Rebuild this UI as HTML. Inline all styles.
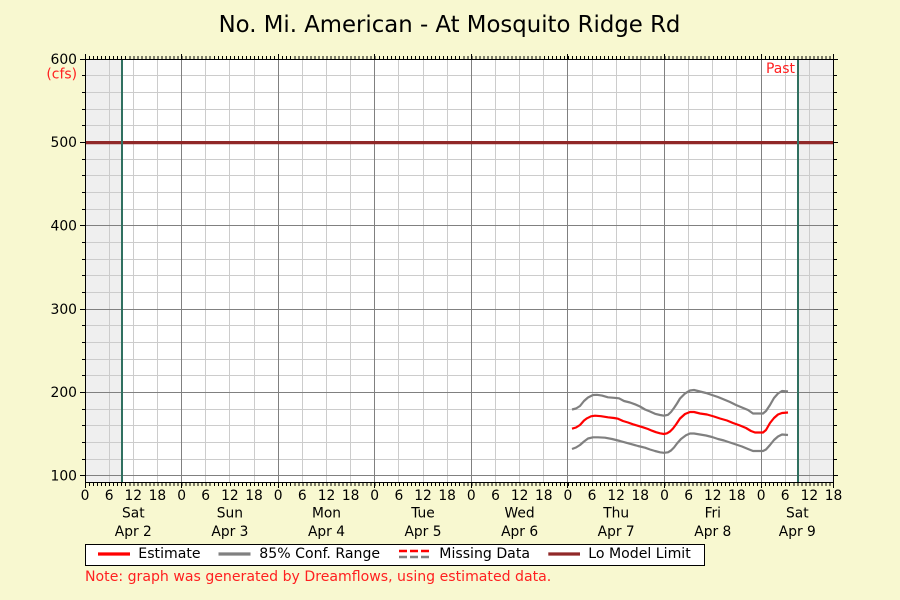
<!DOCTYPE html>
<html>
<head>
<meta charset="utf-8">
<style>
html,body{margin:0;padding:0;background:#f8f8d0;}
svg{display:block;}
text{font-family:"DejaVu Sans","Liberation Sans",sans-serif;}
</style>
</head>
<body>
<svg width="900" height="600" viewBox="0 0 900 600" xmlns="http://www.w3.org/2000/svg">
<rect x="0" y="0" width="900" height="600" fill="#f8f8d0"/>
<text x="449.5" y="32" font-size="22.8" text-anchor="middle" fill="#000">No. Mi. American - At Mosquito Ridge Rd</text>

<!-- plot background -->
<rect x="85" y="59" width="749" height="424" fill="#ffffff"/>
<rect x="85" y="59" width="37" height="424" fill="#efefef"/>
<rect x="798" y="59" width="36" height="424" fill="#efefef"/>

<!-- light grid -->
<g stroke="#cccccc" stroke-width="1" shape-rendering="crispEdges">
<path d="M85 75.5H834M85 92.5H834M85 109.5H834M85 125.5H834M85 159.5H834M85 175.5H834M85 192.5H834M85 209.5H834M85 242.5H834M85 259.5H834M85 275.5H834M85 292.5H834M85 325.5H834M85 342.5H834M85 359.5H834M85 375.5H834M85 409.5H834M85 425.5H834M85 442.5H834M85 459.5H834"/>
<path d="M109.5 59V483M133.5 59V483M157.5 59V483M205.5 59V483M229.5 59V483M254.5 59V483M302.5 59V483M326.5 59V483M350.5 59V483M398.5 59V483M423.5 59V483M447.5 59V483M495.5 59V483M519.5 59V483M543.5 59V483M592.5 59V483M616.5 59V483M640.5 59V483M688.5 59V483M712.5 59V483M736.5 59V483M785.5 59V483M809.5 59V483"/>
</g>
<!-- dark grid -->
<g stroke="#808080" stroke-width="1" shape-rendering="crispEdges">
<path d="M85 225.5H834M85 309.5H834M85 392.5H834M85 475.5H834"/>
<path d="M181.5 59V483M278.5 59V483M374.5 59V483M471.5 59V483M567.5 59V483M664.5 59V483M761.5 59V483"/>
</g>

<!-- Lo model limit -->
<line x1="85" y1="142.6" x2="834" y2="142.6" stroke="#902828" stroke-width="3.2"/>
<!-- now lines -->
<line x1="122" y1="59" x2="122" y2="483" stroke="#307060" stroke-width="2"/>
<line x1="798" y1="59" x2="798" y2="483" stroke="#307060" stroke-width="2"/>

<!-- data -->
<g fill="none" stroke-width="2.2" stroke-linejoin="round" stroke-linecap="butt">
<polyline stroke="#808080" points="572,409.5 576,408.5 580,406 584,401 588,397.5 593,395 597,394.8 602,395.6 608,397.3 614,397.8 619,398.3 624,401 630,402.5 635,404.3 640,406.5 645,409.5 650,411.5 655,413.8 660,415 664,415.7 668,414.8 671,412 674,408 677,403.5 680,398.5 685,393.5 690,390.5 694,390 700,391.5 706,393 712,395 718,397 724,399.5 730,402 736,405 742,407.5 748,410 753,413.5 763,413.5 766,411 770,405 774,398 778,393.5 782,391 788,391.5"/>
<polyline stroke="#808080" points="572,449 576,447.5 580,445 584,441.5 588,438.5 593,437.3 598,437.3 605,437.7 612,439 620,441 626,442.7 632,444.3 638,446 645,447.7 650,449.5 655,451 660,452.3 664,452.8 668,452.3 671,450.5 674,447.5 677,443.5 681,439 686,435.3 690,433.5 694,433.5 700,434.5 706,435.5 712,437 718,439 724,440.5 730,442.5 736,444.5 742,446.5 748,449 753,451 763,451 766,449.5 770,445 774,440 778,436.5 782,434.5 788,435"/>
<polyline stroke="#ff0000" points="572,428.7 576,427.5 580,425 584,420.5 587,418.3 591,416.3 595,415.7 601,416.2 608,417.3 614,418 618,418.7 623,421 628,422.5 633,424.3 638,425.8 643,427.3 648,429 652,430.7 656,432.2 660,433.3 664,434 667,433.3 670,431.5 673,428.5 676,424.5 680,418.5 685,414 690,412 694,412 700,413.5 707,414.5 714,416.5 720,418.5 727,420.5 733,423 740,425.5 746,428 751,431 755,432.5 763,432.5 766,430 770,423 774,418 778,414.5 782,413 788,412.5"/>
</g>

<!-- border -->
<rect x="85.5" y="59.5" width="748" height="423" fill="none" stroke="#000" stroke-width="1" shape-rendering="crispEdges"/>

<!-- hour ticks top & bottom -->
<line x1="85" y1="57.5" x2="834" y2="57.5" stroke="#000" stroke-width="3" stroke-dasharray="1 3.02417" shape-rendering="crispEdges"/>
<line x1="85" y1="484.5" x2="834" y2="484.5" stroke="#000" stroke-width="3" stroke-dasharray="1 3.02417" shape-rendering="crispEdges"/>
<g stroke="#000" stroke-width="1" shape-rendering="crispEdges">
<path d="M85.5 54V59M181.5 54V59M278.5 54V59M374.5 54V59M471.5 54V59M567.5 54V59M664.5 54V59M761.5 54V59M833.5 54V59"/>
<path d="M85.5 483V488M181.5 483V488M278.5 483V488M374.5 483V488M471.5 483V488M567.5 483V488M664.5 483V488M761.5 483V488M833.5 483V488"/>
<!-- left ticks -->
<path d="M80 59.5H85M80 142.5H85M80 225.5H85M80 309.5H85M80 392.5H85M80 475.5H85"/>
<path d="M82 75.5H85M82 92.5H85M82 109.5H85M82 125.5H85M82 159.5H85M82 175.5H85M82 192.5H85M82 209.5H85M82 242.5H85M82 259.5H85M82 275.5H85M82 292.5H85M82 325.5H85M82 342.5H85M82 359.5H85M82 375.5H85M82 409.5H85M82 425.5H85M82 442.5H85M82 459.5H85"/>
<!-- right ticks -->
<path d="M834 59.5H838M834 142.5H838M834 225.5H838M834 309.5H838M834 392.5H838M834 475.5H838"/>
<path d="M834 75.5H837M834 92.5H837M834 109.5H837M834 125.5H837M834 159.5H837M834 175.5H837M834 192.5H837M834 209.5H837M834 242.5H837M834 259.5H837M834 275.5H837M834 292.5H837M834 325.5H837M834 342.5H837M834 359.5H837M834 375.5H837M834 409.5H837M834 425.5H837M834 442.5H837M834 459.5H837"/>
</g>

<!-- y labels -->
<g font-size="13.9" fill="#000" text-anchor="end">
<text x="77" y="64">600</text>
<text x="77" y="147">500</text>
<text x="77" y="230.5">400</text>
<text x="77" y="314">300</text>
<text x="77" y="397">200</text>
<text x="77" y="480.5">100</text>
</g>
<text x="77" y="78.5" font-size="13.9" fill="#ff2020" text-anchor="end">(cfs)</text>
<text x="795" y="73" font-size="13.9" fill="#ff2020" text-anchor="end">Past</text>

<!-- x hour labels -->
<g font-size="13.8" fill="#000" text-anchor="middle">
<text x="85" y="500">0</text><text x="109.2" y="500">6</text><text x="133.3" y="500">12</text><text x="157.4" y="500">18</text>
<text x="181.6" y="500">0</text><text x="205.7" y="500">6</text><text x="229.9" y="500">12</text><text x="254" y="500">18</text>
<text x="278.2" y="500">0</text><text x="302.3" y="500">6</text><text x="326.5" y="500">12</text><text x="350.6" y="500">18</text>
<text x="374.7" y="500">0</text><text x="398.9" y="500">6</text><text x="423" y="500">12</text><text x="447.2" y="500">18</text>
<text x="471.3" y="500">0</text><text x="495.5" y="500">6</text><text x="519.6" y="500">12</text><text x="543.8" y="500">18</text>
<text x="567.9" y="500">0</text><text x="592" y="500">6</text><text x="616.2" y="500">12</text><text x="640.3" y="500">18</text>
<text x="664.5" y="500">0</text><text x="688.6" y="500">6</text><text x="712.8" y="500">12</text><text x="736.9" y="500">18</text>
<text x="761.1" y="500">0</text><text x="785.2" y="500">6</text><text x="809.4" y="500">12</text><text x="833.5" y="500">18</text>
<!-- day names -->
<text x="133.3" y="517.5">Sat</text>
<text x="229.9" y="517.5">Sun</text>
<text x="326.5" y="517.5">Mon</text>
<text x="423" y="517.5">Tue</text>
<text x="519.6" y="517.5">Wed</text>
<text x="616.2" y="517.5">Thu</text>
<text x="712.8" y="517.5">Fri</text>
<text x="797.3" y="517.5">Sat</text>
<text x="133.3" y="536">Apr 2</text>
<text x="229.9" y="536">Apr 3</text>
<text x="326.5" y="536">Apr 4</text>
<text x="423" y="536">Apr 5</text>
<text x="519.6" y="536">Apr 6</text>
<text x="616.2" y="536">Apr 7</text>
<text x="712.8" y="536">Apr 8</text>
<text x="797.3" y="536">Apr 9</text>
</g>

<!-- legend -->
<rect x="85.5" y="544.5" width="619" height="21" fill="#ffffff" stroke="#000" stroke-width="1" shape-rendering="crispEdges"/>
<line x1="98" y1="554" x2="130" y2="554" stroke="#ff0000" stroke-width="3.3"/>
<line x1="218.5" y1="554" x2="250.5" y2="554" stroke="#808080" stroke-width="3.3"/>
<line x1="399" y1="551" x2="431" y2="551" stroke="#ff0000" stroke-width="2.4" stroke-dasharray="8 3"/>
<line x1="399" y1="557" x2="431" y2="557" stroke="#808080" stroke-width="2.4" stroke-dasharray="8 3"/>
<line x1="548.3" y1="554" x2="580" y2="554" stroke="#902828" stroke-width="3.3"/>
<g font-size="14.1" fill="#000">
<text x="138.3" y="558">Estimate</text>
<text x="259.3" y="558">85% Conf. Range</text>
<text x="439.3" y="558">Missing Data</text>
<text x="588.3" y="558">Lo Model Limit</text>
</g>
<text x="85" y="581" font-size="14.1" fill="#ff2020">Note: graph was generated by Dreamflows, using estimated data.</text>
</svg>
</body>
</html>
